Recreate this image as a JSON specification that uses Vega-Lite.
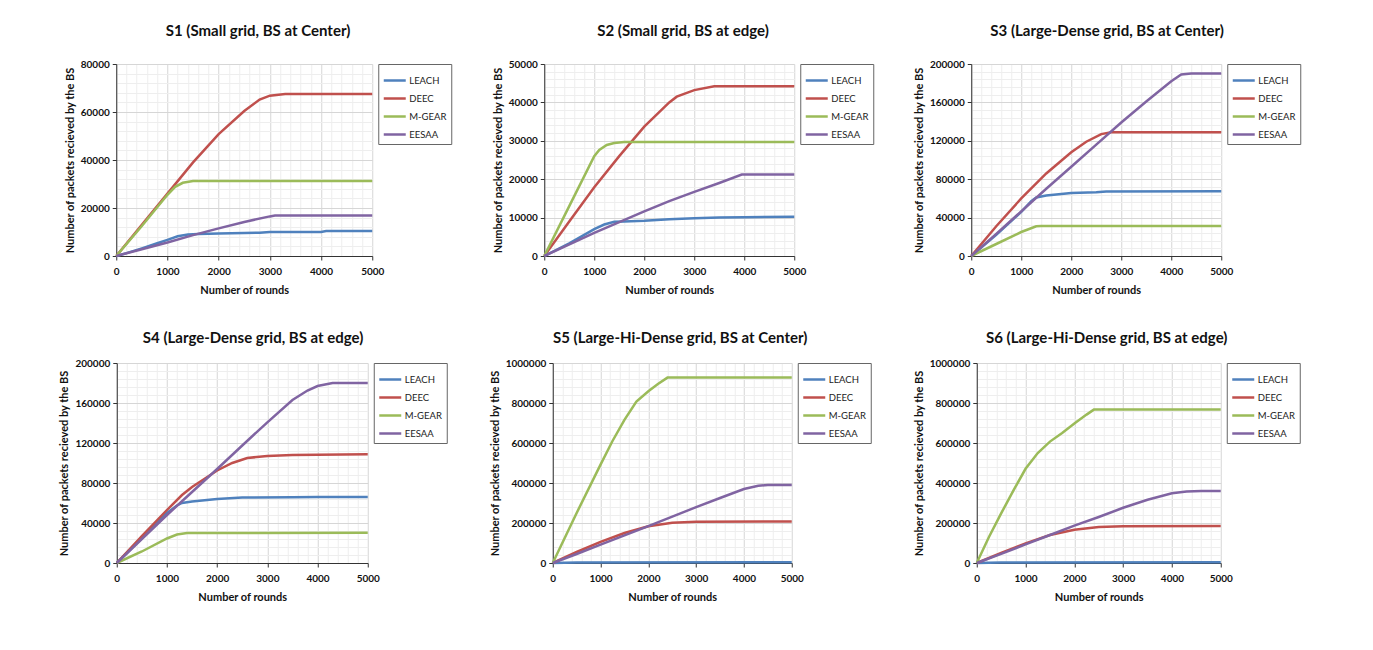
{
  "$schema": "https://vega.github.io/schema/vega-lite/v6.json",
  "padding": {"left": 58, "top": 24, "right": 5, "bottom": 5},
  "background": "white",
  "datasets": {
    "d": [
      {"s":"S1","p":"LEACH","r":0,"v":0},{"s":"S1","p":"LEACH","r":200,"v":1200},{"s":"S1","p":"LEACH","r":500,"v":3200},{"s":"S1","p":"LEACH","r":800,"v":5300},{"s":"S1","p":"LEACH","r":1000,"v":6700},{"s":"S1","p":"LEACH","r":1200,"v":8200},{"s":"S1","p":"LEACH","r":1400,"v":9000},{"s":"S1","p":"LEACH","r":1600,"v":9200},{"s":"S1","p":"LEACH","r":2000,"v":9400},{"s":"S1","p":"LEACH","r":2500,"v":9600},{"s":"S1","p":"LEACH","r":2800,"v":9700},{"s":"S1","p":"LEACH","r":3000,"v":10000},{"s":"S1","p":"LEACH","r":4000,"v":10000},{"s":"S1","p":"LEACH","r":4100,"v":10400},{"s":"S1","p":"LEACH","r":5000,"v":10400},
      {"s":"S1","p":"DEEC","r":0,"v":0},{"s":"S1","p":"DEEC","r":500,"v":13000},{"s":"S1","p":"DEEC","r":1000,"v":26000},{"s":"S1","p":"DEEC","r":1500,"v":39000},{"s":"S1","p":"DEEC","r":2000,"v":50800},{"s":"S1","p":"DEEC","r":2500,"v":60400},{"s":"S1","p":"DEEC","r":2800,"v":65200},{"s":"S1","p":"DEEC","r":3000,"v":66800},{"s":"S1","p":"DEEC","r":3300,"v":67500},{"s":"S1","p":"DEEC","r":4000,"v":67500},{"s":"S1","p":"DEEC","r":5000,"v":67500},
      {"s":"S1","p":"M-GEAR","r":0,"v":0},{"s":"S1","p":"M-GEAR","r":500,"v":12500},{"s":"S1","p":"M-GEAR","r":1000,"v":25500},{"s":"S1","p":"M-GEAR","r":1150,"v":28800},{"s":"S1","p":"M-GEAR","r":1300,"v":30500},{"s":"S1","p":"M-GEAR","r":1500,"v":31200},{"s":"S1","p":"M-GEAR","r":1700,"v":31300},{"s":"S1","p":"M-GEAR","r":5000,"v":31300},
      {"s":"S1","p":"EESAA","r":0,"v":0},{"s":"S1","p":"EESAA","r":500,"v":2800},{"s":"S1","p":"EESAA","r":1000,"v":5600},{"s":"S1","p":"EESAA","r":1500,"v":8700},{"s":"S1","p":"EESAA","r":2000,"v":11500},{"s":"S1","p":"EESAA","r":2500,"v":14200},{"s":"S1","p":"EESAA","r":3000,"v":16500},{"s":"S1","p":"EESAA","r":3100,"v":16900},{"s":"S1","p":"EESAA","r":5000,"v":16900},

      {"s":"S2","p":"LEACH","r":0,"v":0},{"s":"S2","p":"LEACH","r":500,"v":3300},{"s":"S2","p":"LEACH","r":1000,"v":7000},{"s":"S2","p":"LEACH","r":1200,"v":8200},{"s":"S2","p":"LEACH","r":1400,"v":8900},{"s":"S2","p":"LEACH","r":1600,"v":9000},{"s":"S2","p":"LEACH","r":2000,"v":9200},{"s":"S2","p":"LEACH","r":2500,"v":9600},{"s":"S2","p":"LEACH","r":3000,"v":9800},{"s":"S2","p":"LEACH","r":3500,"v":10000},{"s":"S2","p":"LEACH","r":4000,"v":10100},{"s":"S2","p":"LEACH","r":5000,"v":10200},
      {"s":"S2","p":"DEEC","r":0,"v":0},{"s":"S2","p":"DEEC","r":500,"v":9000},{"s":"S2","p":"DEEC","r":1000,"v":17900},{"s":"S2","p":"DEEC","r":1500,"v":26000},{"s":"S2","p":"DEEC","r":2000,"v":33700},{"s":"S2","p":"DEEC","r":2500,"v":40000},{"s":"S2","p":"DEEC","r":2650,"v":41500},{"s":"S2","p":"DEEC","r":3000,"v":43200},{"s":"S2","p":"DEEC","r":3400,"v":44200},{"s":"S2","p":"DEEC","r":5000,"v":44200},
      {"s":"S2","p":"M-GEAR","r":0,"v":0},{"s":"S2","p":"M-GEAR","r":500,"v":13000},{"s":"S2","p":"M-GEAR","r":1000,"v":26000},{"s":"S2","p":"M-GEAR","r":1100,"v":27600},{"s":"S2","p":"M-GEAR","r":1250,"v":28900},{"s":"S2","p":"M-GEAR","r":1400,"v":29400},{"s":"S2","p":"M-GEAR","r":1600,"v":29700},{"s":"S2","p":"M-GEAR","r":5000,"v":29700},
      {"s":"S2","p":"EESAA","r":0,"v":0},{"s":"S2","p":"EESAA","r":1000,"v":6000},{"s":"S2","p":"EESAA","r":1500,"v":8800},{"s":"S2","p":"EESAA","r":2000,"v":11600},{"s":"S2","p":"EESAA","r":2500,"v":14300},{"s":"S2","p":"EESAA","r":3000,"v":16700},{"s":"S2","p":"EESAA","r":3500,"v":19000},{"s":"S2","p":"EESAA","r":3950,"v":21200},{"s":"S2","p":"EESAA","r":5000,"v":21200},

      {"s":"S3","p":"LEACH","r":0,"v":0},{"s":"S3","p":"LEACH","r":500,"v":22000},{"s":"S3","p":"LEACH","r":1000,"v":46000},{"s":"S3","p":"LEACH","r":1200,"v":57000},{"s":"S3","p":"LEACH","r":1300,"v":61000},{"s":"S3","p":"LEACH","r":1500,"v":63000},{"s":"S3","p":"LEACH","r":2000,"v":65500},{"s":"S3","p":"LEACH","r":2500,"v":66500},{"s":"S3","p":"LEACH","r":2700,"v":67200},{"s":"S3","p":"LEACH","r":5000,"v":67500},
      {"s":"S3","p":"DEEC","r":0,"v":0},{"s":"S3","p":"DEEC","r":500,"v":31000},{"s":"S3","p":"DEEC","r":1000,"v":60000},{"s":"S3","p":"DEEC","r":1500,"v":86000},{"s":"S3","p":"DEEC","r":2000,"v":108000},{"s":"S3","p":"DEEC","r":2300,"v":119000},{"s":"S3","p":"DEEC","r":2600,"v":127000},{"s":"S3","p":"DEEC","r":2800,"v":128800},{"s":"S3","p":"DEEC","r":5000,"v":128800},
      {"s":"S3","p":"M-GEAR","r":0,"v":0},{"s":"S3","p":"M-GEAR","r":500,"v":12500},{"s":"S3","p":"M-GEAR","r":1000,"v":25000},{"s":"S3","p":"M-GEAR","r":1300,"v":31000},{"s":"S3","p":"M-GEAR","r":1400,"v":31300},{"s":"S3","p":"M-GEAR","r":5000,"v":31300},
      {"s":"S3","p":"EESAA","r":0,"v":0},{"s":"S3","p":"EESAA","r":500,"v":23000},{"s":"S3","p":"EESAA","r":1000,"v":46500},{"s":"S3","p":"EESAA","r":1500,"v":70000},{"s":"S3","p":"EESAA","r":2000,"v":93000},{"s":"S3","p":"EESAA","r":2500,"v":116000},{"s":"S3","p":"EESAA","r":3000,"v":139000},{"s":"S3","p":"EESAA","r":3500,"v":161000},{"s":"S3","p":"EESAA","r":4000,"v":182000},{"s":"S3","p":"EESAA","r":4200,"v":189000},{"s":"S3","p":"EESAA","r":4400,"v":190000},{"s":"S3","p":"EESAA","r":5000,"v":190000},

      {"s":"S4","p":"LEACH","r":0,"v":0},{"s":"S4","p":"LEACH","r":500,"v":25000},{"s":"S4","p":"LEACH","r":1000,"v":50000},{"s":"S4","p":"LEACH","r":1200,"v":57500},{"s":"S4","p":"LEACH","r":1300,"v":60000},{"s":"S4","p":"LEACH","r":1500,"v":61500},{"s":"S4","p":"LEACH","r":2000,"v":64000},{"s":"S4","p":"LEACH","r":2500,"v":65500},{"s":"S4","p":"LEACH","r":3500,"v":65800},{"s":"S4","p":"LEACH","r":4000,"v":66000},{"s":"S4","p":"LEACH","r":5000,"v":66000},
      {"s":"S4","p":"DEEC","r":0,"v":0},{"s":"S4","p":"DEEC","r":500,"v":27000},{"s":"S4","p":"DEEC","r":1000,"v":53000},{"s":"S4","p":"DEEC","r":1300,"v":68000},{"s":"S4","p":"DEEC","r":1500,"v":76000},{"s":"S4","p":"DEEC","r":2000,"v":92500},{"s":"S4","p":"DEEC","r":2300,"v":100000},{"s":"S4","p":"DEEC","r":2600,"v":105000},{"s":"S4","p":"DEEC","r":3000,"v":107000},{"s":"S4","p":"DEEC","r":3500,"v":108000},{"s":"S4","p":"DEEC","r":5000,"v":108700},
      {"s":"S4","p":"M-GEAR","r":0,"v":0},{"s":"S4","p":"M-GEAR","r":500,"v":11500},{"s":"S4","p":"M-GEAR","r":1000,"v":24500},{"s":"S4","p":"M-GEAR","r":1200,"v":28500},{"s":"S4","p":"M-GEAR","r":1400,"v":30000},{"s":"S4","p":"M-GEAR","r":5000,"v":30300},
      {"s":"S4","p":"EESAA","r":0,"v":0},{"s":"S4","p":"EESAA","r":500,"v":24000},{"s":"S4","p":"EESAA","r":1000,"v":48000},{"s":"S4","p":"EESAA","r":1500,"v":71000},{"s":"S4","p":"EESAA","r":2000,"v":94000},{"s":"S4","p":"EESAA","r":2500,"v":117500},{"s":"S4","p":"EESAA","r":3000,"v":140700},{"s":"S4","p":"EESAA","r":3500,"v":163000},{"s":"S4","p":"EESAA","r":3800,"v":172500},{"s":"S4","p":"EESAA","r":4000,"v":177000},{"s":"S4","p":"EESAA","r":4300,"v":180000},{"s":"S4","p":"EESAA","r":5000,"v":180000},

      {"s":"S5","p":"LEACH","r":0,"v":0},{"s":"S5","p":"LEACH","r":500,"v":2500},{"s":"S5","p":"LEACH","r":5000,"v":3500},
      {"s":"S5","p":"DEEC","r":0,"v":0},{"s":"S5","p":"DEEC","r":500,"v":55000},{"s":"S5","p":"DEEC","r":1000,"v":106000},{"s":"S5","p":"DEEC","r":1500,"v":150000},{"s":"S5","p":"DEEC","r":2000,"v":184000},{"s":"S5","p":"DEEC","r":2500,"v":201000},{"s":"S5","p":"DEEC","r":3000,"v":206000},{"s":"S5","p":"DEEC","r":5000,"v":208000},
      {"s":"S5","p":"M-GEAR","r":0,"v":0},{"s":"S5","p":"M-GEAR","r":500,"v":250000},{"s":"S5","p":"M-GEAR","r":1000,"v":492000},{"s":"S5","p":"M-GEAR","r":1250,"v":610000},{"s":"S5","p":"M-GEAR","r":1500,"v":716000},{"s":"S5","p":"M-GEAR","r":1750,"v":807000},{"s":"S5","p":"M-GEAR","r":2000,"v":859000},{"s":"S5","p":"M-GEAR","r":2200,"v":895000},{"s":"S5","p":"M-GEAR","r":2400,"v":927000},{"s":"S5","p":"M-GEAR","r":5000,"v":927000},
      {"s":"S5","p":"EESAA","r":0,"v":0},{"s":"S5","p":"EESAA","r":500,"v":45000},{"s":"S5","p":"EESAA","r":1000,"v":92000},{"s":"S5","p":"EESAA","r":1500,"v":138000},{"s":"S5","p":"EESAA","r":2000,"v":184000},{"s":"S5","p":"EESAA","r":2500,"v":232000},{"s":"S5","p":"EESAA","r":3000,"v":279000},{"s":"S5","p":"EESAA","r":3500,"v":325000},{"s":"S5","p":"EESAA","r":4000,"v":370000},{"s":"S5","p":"EESAA","r":4300,"v":386000},{"s":"S5","p":"EESAA","r":4500,"v":390000},{"s":"S5","p":"EESAA","r":5000,"v":390000},

      {"s":"S6","p":"LEACH","r":0,"v":0},{"s":"S6","p":"LEACH","r":500,"v":2500},{"s":"S6","p":"LEACH","r":5000,"v":3500},
      {"s":"S6","p":"DEEC","r":0,"v":0},{"s":"S6","p":"DEEC","r":500,"v":50000},{"s":"S6","p":"DEEC","r":1000,"v":98000},{"s":"S6","p":"DEEC","r":1500,"v":140000},{"s":"S6","p":"DEEC","r":2000,"v":166000},{"s":"S6","p":"DEEC","r":2500,"v":180000},{"s":"S6","p":"DEEC","r":3000,"v":184000},{"s":"S6","p":"DEEC","r":5000,"v":185000},
      {"s":"S6","p":"M-GEAR","r":0,"v":0},{"s":"S6","p":"M-GEAR","r":250,"v":130000},{"s":"S6","p":"M-GEAR","r":500,"v":248000},{"s":"S6","p":"M-GEAR","r":750,"v":362000},{"s":"S6","p":"M-GEAR","r":1000,"v":471000},{"s":"S6","p":"M-GEAR","r":1250,"v":550000},{"s":"S6","p":"M-GEAR","r":1500,"v":607000},{"s":"S6","p":"M-GEAR","r":1750,"v":650000},{"s":"S6","p":"M-GEAR","r":2000,"v":698000},{"s":"S6","p":"M-GEAR","r":2250,"v":742000},{"s":"S6","p":"M-GEAR","r":2400,"v":767000},{"s":"S6","p":"M-GEAR","r":5000,"v":767000},
      {"s":"S6","p":"EESAA","r":0,"v":0},{"s":"S6","p":"EESAA","r":500,"v":46000},{"s":"S6","p":"EESAA","r":1000,"v":93000},{"s":"S6","p":"EESAA","r":1500,"v":140000},{"s":"S6","p":"EESAA","r":2000,"v":187000},{"s":"S6","p":"EESAA","r":2500,"v":230000},{"s":"S6","p":"EESAA","r":3000,"v":276000},{"s":"S6","p":"EESAA","r":3500,"v":316000},{"s":"S6","p":"EESAA","r":4000,"v":349000},{"s":"S6","p":"EESAA","r":4300,"v":358000},{"s":"S6","p":"EESAA","r":4600,"v":360000},{"s":"S6","p":"EESAA","r":5000,"v":360000}
    ]
  },
  "data": {"name": "d"},
  "center": true,
  "vconcat": [
    {
      "hconcat": [
        {
          "title": "S1 (Small grid, BS at Center)",
          "width": 256, "height": 192,
          "transform": [{"filter": "datum.s === 'S1'"}],
          "mark": {"type": "line", "strokeWidth": 2.5},
          "encoding": {
            "x": {"field": "r", "type": "quantitative", "scale": {"domain": [0, 5000], "nice": false}, "title": "Number of rounds",
              "axis": {"format": "d", "values": [0,200,400,600,800,1000,1200,1400,1600,1800,2000,2200,2400,2600,2800,3000,3200,3400,3600,3800,4000,4200,4400,4600,4800,5000],
                "labelExpr": "datum.value % 1000 === 0 ? datum.label : ''",
                "gridColor": {"condition": {"test": "datum.value % 1000 === 0", "value": "#d6d6d6"}, "value": "#eeeeee"},
                "tickOpacity": {"condition": {"test": "datum.value % 1000 === 0", "value": 1}, "value": 0}}},
            "y": {"field": "v", "type": "quantitative", "scale": {"domain": [0, 80000], "nice": false}, "title": "Number of packets recieved by the BS",
              "axis": {"format": "d", "values": [0,4000,8000,12000,16000,20000,24000,28000,32000,36000,40000,44000,48000,52000,56000,60000,64000,68000,72000,76000,80000],
                "labelExpr": "datum.value % 20000 === 0 ? datum.label : ''",
                "gridColor": {"condition": {"test": "datum.value % 20000 === 0", "value": "#d6d6d6"}, "value": "#eeeeee"},
                "tickOpacity": {"condition": {"test": "datum.value % 20000 === 0", "value": 1}, "value": 0}}},
            "color": {"field": "p", "type": "nominal", "title": null, "scale": {"domain": ["LEACH", "DEEC", "M-GEAR", "EESAA"], "range": ["#4F81BD", "#C0504D", "#9BBB59", "#8064A2"]}}
          }
        },
        {
          "title": "S2 (Small grid, BS at edge)",
          "width": 250, "height": 192,
          "transform": [{"filter": "datum.s === 'S2'"}],
          "mark": {"type": "line", "strokeWidth": 2.5},
          "encoding": {
            "x": {"field": "r", "type": "quantitative", "scale": {"domain": [0, 5000], "nice": false}, "title": "Number of rounds",
              "axis": {"format": "d", "values": [0,200,400,600,800,1000,1200,1400,1600,1800,2000,2200,2400,2600,2800,3000,3200,3400,3600,3800,4000,4200,4400,4600,4800,5000],
                "labelExpr": "datum.value % 1000 === 0 ? datum.label : ''",
                "gridColor": {"condition": {"test": "datum.value % 1000 === 0", "value": "#d6d6d6"}, "value": "#eeeeee"},
                "tickOpacity": {"condition": {"test": "datum.value % 1000 === 0", "value": 1}, "value": 0}}},
            "y": {"field": "v", "type": "quantitative", "scale": {"domain": [0, 50000], "nice": false}, "title": "Number of packets recieved by the BS",
              "axis": {"format": "d", "values": [0,2000,4000,6000,8000,10000,12000,14000,16000,18000,20000,22000,24000,26000,28000,30000,32000,34000,36000,38000,40000,42000,44000,46000,48000,50000],
                "labelExpr": "datum.value % 10000 === 0 ? datum.label : ''",
                "gridColor": {"condition": {"test": "datum.value % 10000 === 0", "value": "#d6d6d6"}, "value": "#eeeeee"},
                "tickOpacity": {"condition": {"test": "datum.value % 10000 === 0", "value": 1}, "value": 0}}},
            "color": {"field": "p", "type": "nominal", "title": null, "scale": {"domain": ["LEACH", "DEEC", "M-GEAR", "EESAA"], "range": ["#4F81BD", "#C0504D", "#9BBB59", "#8064A2"]}}
          }
        },
        {
          "title": "S3 (Large-Dense grid, BS at Center)",
          "width": 250, "height": 192,
          "transform": [{"filter": "datum.s === 'S3'"}],
          "mark": {"type": "line", "strokeWidth": 2.5},
          "encoding": {
            "x": {"field": "r", "type": "quantitative", "scale": {"domain": [0, 5000], "nice": false}, "title": "Number of rounds",
              "axis": {"format": "d", "values": [0,200,400,600,800,1000,1200,1400,1600,1800,2000,2200,2400,2600,2800,3000,3200,3400,3600,3800,4000,4200,4400,4600,4800,5000],
                "labelExpr": "datum.value % 1000 === 0 ? datum.label : ''",
                "gridColor": {"condition": {"test": "datum.value % 1000 === 0", "value": "#d6d6d6"}, "value": "#eeeeee"},
                "tickOpacity": {"condition": {"test": "datum.value % 1000 === 0", "value": 1}, "value": 0}}},
            "y": {"field": "v", "type": "quantitative", "scale": {"domain": [0, 200000], "nice": false}, "title": "Number of packets recieved by the BS",
              "axis": {"format": "d", "values": [0,8000,16000,24000,32000,40000,48000,56000,64000,72000,80000,88000,96000,104000,112000,120000,128000,136000,144000,152000,160000,168000,176000,184000,192000,200000],
                "labelExpr": "datum.value % 40000 === 0 ? datum.label : ''",
                "gridColor": {"condition": {"test": "datum.value % 40000 === 0", "value": "#d6d6d6"}, "value": "#eeeeee"},
                "tickOpacity": {"condition": {"test": "datum.value % 40000 === 0", "value": 1}, "value": 0}}},
            "color": {"field": "p", "type": "nominal", "title": null, "scale": {"domain": ["LEACH", "DEEC", "M-GEAR", "EESAA"], "range": ["#4F81BD", "#C0504D", "#9BBB59", "#8064A2"]}}
          }
        }
      ],
      "spacing": 39,
      "resolve": {"scale": {"color": "independent"}, "legend": {"color": "independent"}}
    },
    {
      "hconcat": [
        {
          "title": {"text": "S4 (Large-Dense grid, BS at edge)", "offset": 12},
          "width": 251, "height": 200,
          "transform": [{"filter": "datum.s === 'S4'"}],
          "mark": {"type": "line", "strokeWidth": 2.5},
          "encoding": {
            "x": {"field": "r", "type": "quantitative", "scale": {"domain": [0, 5000], "nice": false}, "title": "Number of rounds",
              "axis": {"format": "d", "values": [0,200,400,600,800,1000,1200,1400,1600,1800,2000,2200,2400,2600,2800,3000,3200,3400,3600,3800,4000,4200,4400,4600,4800,5000],
                "labelExpr": "datum.value % 1000 === 0 ? datum.label : ''",
                "gridColor": {"condition": {"test": "datum.value % 1000 === 0", "value": "#d6d6d6"}, "value": "#eeeeee"},
                "tickOpacity": {"condition": {"test": "datum.value % 1000 === 0", "value": 1}, "value": 0}}},
            "y": {"field": "v", "type": "quantitative", "scale": {"domain": [0, 200000], "nice": false}, "title": "Number of packets recieved by the BS",
              "axis": {"format": "d", "values": [0,8000,16000,24000,32000,40000,48000,56000,64000,72000,80000,88000,96000,104000,112000,120000,128000,136000,144000,152000,160000,168000,176000,184000,192000,200000],
                "labelExpr": "datum.value % 40000 === 0 ? datum.label : ''",
                "gridColor": {"condition": {"test": "datum.value % 40000 === 0", "value": "#d6d6d6"}, "value": "#eeeeee"},
                "tickOpacity": {"condition": {"test": "datum.value % 40000 === 0", "value": 1}, "value": 0}}},
            "color": {"field": "p", "type": "nominal", "title": null, "scale": {"domain": ["LEACH", "DEEC", "M-GEAR", "EESAA"], "range": ["#4F81BD", "#C0504D", "#9BBB59", "#8064A2"]}}
          }
        },
        {
          "title": {"text": "S5 (Large-Hi-Dense grid, BS at Center)", "offset": 12},
          "width": 239, "height": 200,
          "transform": [{"filter": "datum.s === 'S5'"}],
          "mark": {"type": "line", "strokeWidth": 2.5},
          "encoding": {
            "x": {"field": "r", "type": "quantitative", "scale": {"domain": [0, 5000], "nice": false}, "title": "Number of rounds",
              "axis": {"format": "d", "values": [0,200,400,600,800,1000,1200,1400,1600,1800,2000,2200,2400,2600,2800,3000,3200,3400,3600,3800,4000,4200,4400,4600,4800,5000],
                "labelExpr": "datum.value % 1000 === 0 ? datum.label : ''",
                "gridColor": {"condition": {"test": "datum.value % 1000 === 0", "value": "#d6d6d6"}, "value": "#eeeeee"},
                "tickOpacity": {"condition": {"test": "datum.value % 1000 === 0", "value": 1}, "value": 0}}},
            "y": {"field": "v", "type": "quantitative", "scale": {"domain": [0, 1000000], "nice": false}, "title": "Number of packets recieved by the BS",
              "axis": {"format": "d", "values": [0,40000,80000,120000,160000,200000,240000,280000,320000,360000,400000,440000,480000,520000,560000,600000,640000,680000,720000,760000,800000,840000,880000,920000,960000,1000000],
                "labelExpr": "datum.value % 200000 === 0 ? datum.label : ''",
                "gridColor": {"condition": {"test": "datum.value % 200000 === 0", "value": "#d6d6d6"}, "value": "#eeeeee"},
                "tickOpacity": {"condition": {"test": "datum.value % 200000 === 0", "value": 1}, "value": 0}}},
            "color": {"field": "p", "type": "nominal", "title": null, "scale": {"domain": ["LEACH", "DEEC", "M-GEAR", "EESAA"], "range": ["#4F81BD", "#C0504D", "#9BBB59", "#8064A2"]}}
          }
        },
        {
          "title": {"text": "S6 (Large-Hi-Dense grid, BS at edge)", "offset": 12},
          "width": 244, "height": 200,
          "transform": [{"filter": "datum.s === 'S6'"}],
          "mark": {"type": "line", "strokeWidth": 2.5},
          "encoding": {
            "x": {"field": "r", "type": "quantitative", "scale": {"domain": [0, 5000], "nice": false}, "title": "Number of rounds",
              "axis": {"format": "d", "values": [0,200,400,600,800,1000,1200,1400,1600,1800,2000,2200,2400,2600,2800,3000,3200,3400,3600,3800,4000,4200,4400,4600,4800,5000],
                "labelExpr": "datum.value % 1000 === 0 ? datum.label : ''",
                "gridColor": {"condition": {"test": "datum.value % 1000 === 0", "value": "#d6d6d6"}, "value": "#eeeeee"},
                "tickOpacity": {"condition": {"test": "datum.value % 1000 === 0", "value": 1}, "value": 0}}},
            "y": {"field": "v", "type": "quantitative", "scale": {"domain": [0, 1000000], "nice": false}, "title": "Number of packets recieved by the BS",
              "axis": {"format": "d", "values": [0,40000,80000,120000,160000,200000,240000,280000,320000,360000,400000,440000,480000,520000,560000,600000,640000,680000,720000,760000,800000,840000,880000,920000,960000,1000000],
                "labelExpr": "datum.value % 200000 === 0 ? datum.label : ''",
                "gridColor": {"condition": {"test": "datum.value % 200000 === 0", "value": "#d6d6d6"}, "value": "#eeeeee"},
                "tickOpacity": {"condition": {"test": "datum.value % 200000 === 0", "value": 1}, "value": 0}}},
            "color": {"field": "p", "type": "nominal", "title": null, "scale": {"domain": ["LEACH", "DEEC", "M-GEAR", "EESAA"], "range": ["#4F81BD", "#C0504D", "#9BBB59", "#8064A2"]}}
          }
        }
      ],
      "spacing": 41,
      "resolve": {"scale": {"color": "independent"}, "legend": {"color": "independent"}}
    }
  ],
  "spacing": 36,
  "resolve": {"scale": {"color": "independent"}, "legend": {"color": "independent"}},
  "config": {
    "font": "Lato",
    "view": {"stroke": null},
    "title": {"fontSize": 15, "fontWeight": "bold", "font": "Lato", "anchor": "middle", "frame": "bounds", "offset": 20, "color": "#111"},
    "axis": {"labelFont": "Lato", "labelFontWeight": "bold", "labelFontSize": 10, "labelColor": "#111", "titleFont": "Lato", "titleFontWeight": "bold", "titleFontSize": 11, "titleColor": "#111", "domainColor": "#333", "tickColor": "#333", "tickSize": 4, "labelOverlap": false, "labelFlush": false, "gridWidth": 1},
    "axisX": {"labelPadding": 6, "titlePadding": 8},
    "axisY": {"labelPadding": 3, "titlePadding": 5},
    "legend": {"orient": "right", "offset": 1, "strokeColor": "#666", "fillColor": "white", "padding": 4, "symbolType": "stroke", "symbolSize": 484, "symbolStrokeWidth": 2.5, "labelFont": "Lato", "labelFontSize": 9.5, "labelColor": "#222", "rowPadding": -2, "labelOffset": 2}
  }
}
